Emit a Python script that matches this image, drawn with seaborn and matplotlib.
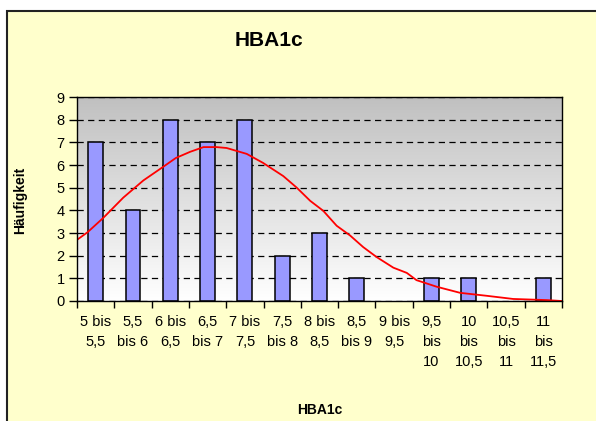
import numpy as np
import seaborn as sns
import matplotlib.pyplot as plt
from matplotlib.patches import Rectangle
from matplotlib.colors import LinearSegmentedColormap

# Klassen und Häufigkeiten
categories = ['5 bis\n5,5', '5,5\nbis 6', '6 bis\n6,5', '6,5\nbis 7', '7 bis\n7,5', '7,5\nbis 8',
              '8 bis\n8,5', '8,5\nbis 9', '9 bis\n9,5', '9,5\nbis\n10', '10\nbis\n10,5',
              '10,5\nbis\n11', '11\nbis\n11,5']
counts = [7, 4, 8, 7, 8, 2, 3, 1, 0, 1, 1, 0, 1]

# Normalverteilungskurve (x in Klassen-Einheiten)
curve_x = [-0.49, -0.22, 0.20, 0.74, 1.28, 1.81, 2.15, 2.53, 2.89, 3.24, 3.51, 4.05, 4.49,
           5.03, 5.39, 5.75, 6.10, 6.46, 6.82, 7.17, 7.53, 7.98, 8.34, 8.60, 9.14, 9.77,
           10.48, 11.19, 12.09, 12.49]
curve_y = [2.71, 3.03, 3.66, 4.56, 5.32, 5.92, 6.31, 6.58, 6.79, 6.79, 6.75, 6.49, 6.09,
           5.51, 5.00, 4.42, 3.98, 3.32, 2.89, 2.38, 1.94, 1.47, 1.24, 0.92, 0.63, 0.36,
           0.23, 0.09, 0.04, 0.0]

sns.set_style('ticks')
plt.rcParams['font.family'] = ['Liberation Sans', 'DejaVu Sans']
plt.rcParams['text.color'] = 'black'
plt.rcParams['xtick.color'] = 'black'
plt.rcParams['ytick.color'] = 'black'

fig = plt.figure(figsize=(5.96, 4.21), dpi=100)
fig.patch.set_facecolor('white')
# gelber Diagrammbereich
fig.patches.append(Rectangle((7 / 596, -0.05), 1.0, 1 - 11 / 421 + 0.05, transform=fig.transFigure,
                             facecolor='#FFFFCC', edgecolor='#222222', linewidth=1.5, zorder=-10))

ax = fig.add_axes([77 / 596, 1 - 301 / 421, 485 / 596, 204 / 421])
ax.set_zorder(1)

# grauer Verlauf im Zeichnungsbereich
grad = np.linspace(0, 1, 256).reshape(-1, 1)
cmap = LinearSegmentedColormap.from_list('g', ['#C0C0C0', '#FFFFFF'])
ax.imshow(grad, extent=[-0.5, 12.5, 0, 9], aspect='auto', cmap=cmap, zorder=0)

sns.barplot(x=categories, y=counts, color='#9999FF', saturation=1, width=0.4,
            edgecolor='black', linewidth=1.1, ax=ax, zorder=3)
for p in ax.patches:
    if p.get_height() == 0:
        p.set_visible(False)
ax.plot(curve_x, curve_y, color='red', linewidth=1.3, zorder=4)

ax.set_xlim(-0.5, 12.5)
ax.set_ylim(0, 9)
ax.set_yticks(range(10))
ax.yaxis.grid(True, color='black', linestyle=(0, (5, 3.5)), linewidth=0.9)
ax.set_axisbelow(False)
for gl in ax.get_ygridlines():
    gl.set_zorder(2)

ax.set_xticks(np.arange(-0.5, 13, 1), minor=True)
ax.tick_params(axis='x', which='major', length=0, pad=10, labelsize=10.5)
ax.tick_params(axis='x', which='minor', length=5, width=1, color='black', direction='out')
ax.tick_params(axis='y', length=6, width=1, color='black', pad=3, labelsize=10.5)
for s in ax.spines.values():
    s.set_visible(True)
    s.set_color('black')
    s.set_linewidth(1)
    s.set_zorder(5)
for lab in ax.get_xticklabels():
    lab.set_linespacing(1.55)
    lab.set_va('top')

ax.set_xlabel('')
ax.set_ylabel('')
fig.text(269 / 596, 1 - 41 / 421, 'HBA1c', ha='center', va='center', fontsize=15, fontweight='bold')
fig.text(20 / 596, 1 - 200 / 421, 'Häufigkeit', ha='center', va='center', rotation=90,
         fontsize=10, fontweight='bold')
fig.text(320 / 596, 1 - 410 / 421, 'HBA1c', ha='center', va='center', fontsize=10, fontweight='bold')

fig.savefig('out.png', dpi=100)
